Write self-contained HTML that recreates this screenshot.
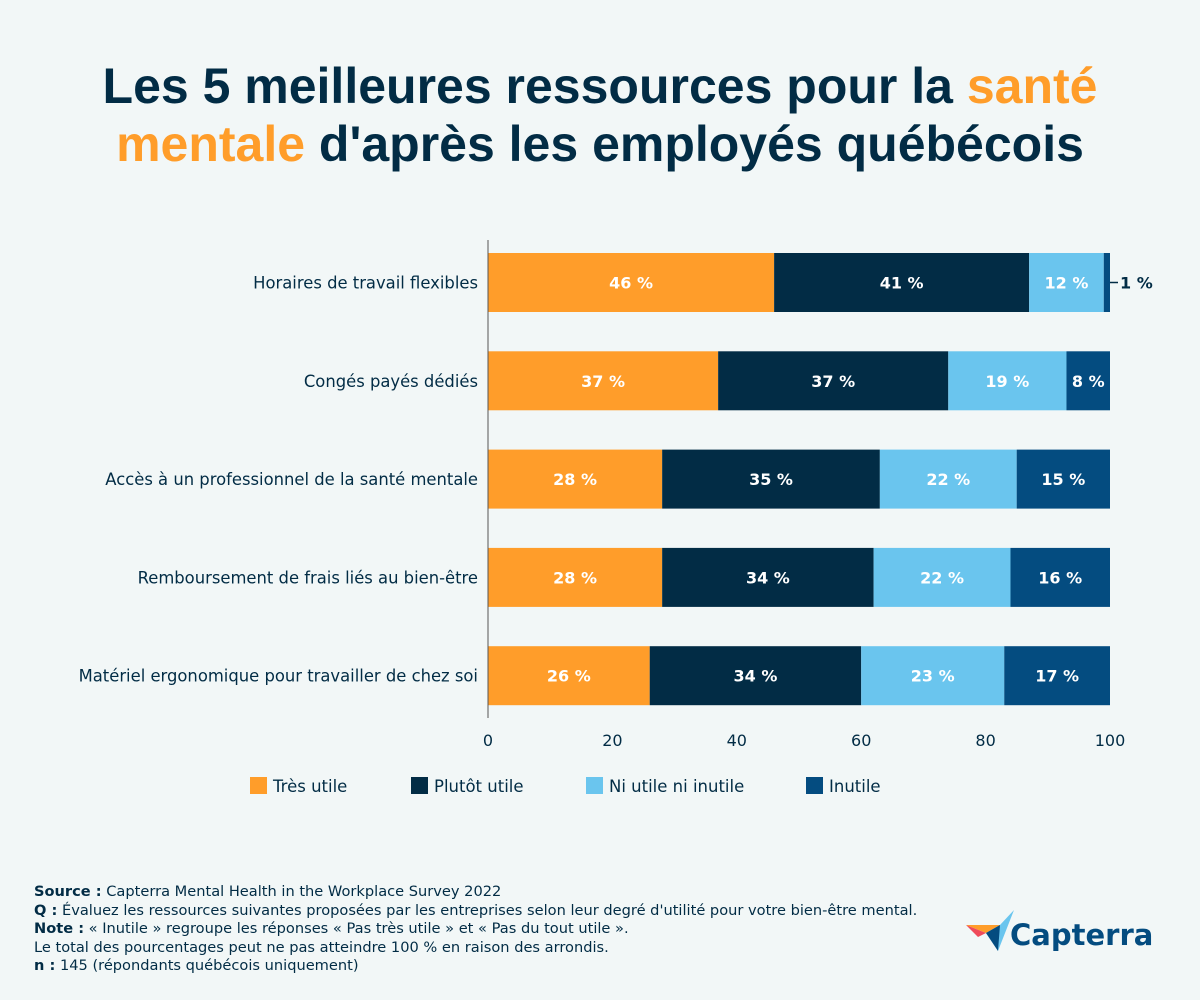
<!DOCTYPE html>
<html><head><meta charset="utf-8"><style>
body{margin:0;background:#f2f7f7;font-family:"DejaVu Sans","Liberation Sans",sans-serif;}
#root{position:relative;width:1200px;height:1000px;overflow:hidden;background:#f2f7f7;}
h1{position:absolute;left:0;top:57px;width:1200px;margin:0;text-align:center;font-family:"Liberation Sans",sans-serif;font-size:50px;line-height:58px;font-weight:bold;color:#022c45;}
.o{color:#ff9d2a;}
.foot{position:absolute;left:34px;top:883px;font-size:14.6px;line-height:18.5px;color:#022c45;}
</style></head><body>
<div id="root">
<h1>Les 5 meilleures ressources pour la <span class="o">santé</span><br><span class="o">mentale</span> d'après les employés québécois</h1>
<svg id="chart" width="1200" height="820" style="position:absolute;left:0;top:0;font-family:'DejaVu Sans','Liberation Sans',sans-serif"></svg>
<div class="foot">
<b>Source :</b> Capterra Mental Health in the Workplace Survey 2022<br>
<b>Q :</b> Évaluez les ressources suivantes proposées par les entreprises selon leur degré d'utilité pour votre bien-être mental.<br>
<b>Note :</b> « Inutile » regroupe les réponses « Pas très utile » et « Pas du tout utile ».<br>
Le total des pourcentages peut ne pas atteindre 100 % en raison des arrondis.<br>
<b>n :</b> 145 (répondants québécois uniquement)
</div>
<div style="position:absolute;left:964px;top:905px;width:230px;height:52px;">
<svg width="230" height="52"><polygon points="2,20 36,20 22,28" fill="#ff9d2a"/><polygon points="2,20 22,28 14,32" fill="#ef4b5a"/><polygon points="36,20 50,5 34,46 22,28" fill="#6ac5ee"/><polygon points="22,28 36,20 34,46" fill="#044c80"/>
<text x="46" y="40" font-size="29" font-weight="bold" fill="#044c80" font-family="DejaVu Sans, sans-serif">Capterra</text></svg></div>
</div>
<script>
const categories=["Horaires de travail flexibles","Congés payés dédiés","Accès à un professionnel de la santé mentale","Remboursement de frais liés au bien-être","Matériel ergonomique pour travailler de chez soi"];
const tresUtile=[46,37,28,28,26];
const plutotUtile=[41,37,35,34,34];
const niUtile=[12,19,22,22,23];
const inutile=[1,8,15,16,17];
const seriesNames=["Très utile","Plutôt utile","Ni utile ni inutile","Inutile"];
const seriesColors=["#ff9d2a","#022c45","#6ac5ee","#044c80"];
const xTicks=[0,20,40,60,80,100];
const svg=document.getElementById('chart');
const NS="http://www.w3.org/2000/svg";
const x0=488,x1=1110,yTop=253,pitch=98.3,bh=59;
const X=v=>x0+(x1-x0)*Math.min(v,100)/100;
const Y=i=>yTop+i*pitch;
function mk(t,a){const e=document.createElementNS(NS,t);for(const k in a)e.setAttribute(k,a[k]);svg.appendChild(e);return e;}
const series=[tresUtile,plutotUtile,niUtile,inutile];
categories.forEach((c,i)=>{
  const t=mk('text',{x:478,y:Y(i)+bh/2+6,'text-anchor':'end','font-size':16.4,fill:'#022c45'});
  t.textContent=c;
  
  
  let acc=0;
  series.forEach((s,k)=>{
    const v=s[i];
    const r=mk('rect',{x:X(acc),y:Y(i),width:Math.max(0,X(acc+v)-X(acc)),height:bh,fill:seriesColors[k]});
    
    
    const mid=(X(acc)+X(acc+v))/2;
    if(v>=5){
      const l=mk('text',{x:mid,y:Y(i)+bh/2+6,'text-anchor':'middle','font-size':16,'font-weight':'bold',fill:'#fff'});
      l.textContent=v+' %';
      
      
    } else {
      mk('line',{x1:X(acc+v),y1:Y(i)+bh/2,x2:X(acc+v)+8,y2:Y(i)+bh/2,stroke:'#022c45','stroke-width':1.5});
      const l=mk('text',{x:X(acc+v)+10,y:Y(i)+bh/2+6,'font-size':16,'font-weight':'bold',fill:'#022c45'});
      l.textContent=v+' %';
      
      
    }
    acc+=v;
  });
});
const ax=mk('line',{x1:488,y1:240,x2:488,y2:718,stroke:'#555','stroke-width':1});


xTicks.forEach(v=>{
  const t=mk('text',{x:X(v),y:746,'text-anchor':'middle','font-size':16,fill:'#022c45'});
  t.textContent=v;
  
  
});
const legX=[250,411,586,806];
seriesNames.forEach((n,k)=>{
  const r=mk('rect',{x:legX[k],y:777,width:17,height:17,fill:seriesColors[k]});
  
  
  const t=mk('text',{x:legX[k]+23,y:792,'font-size':16.5,fill:'#022c45'});
  t.textContent=n;
  
  
});
</script>
</body></html>
